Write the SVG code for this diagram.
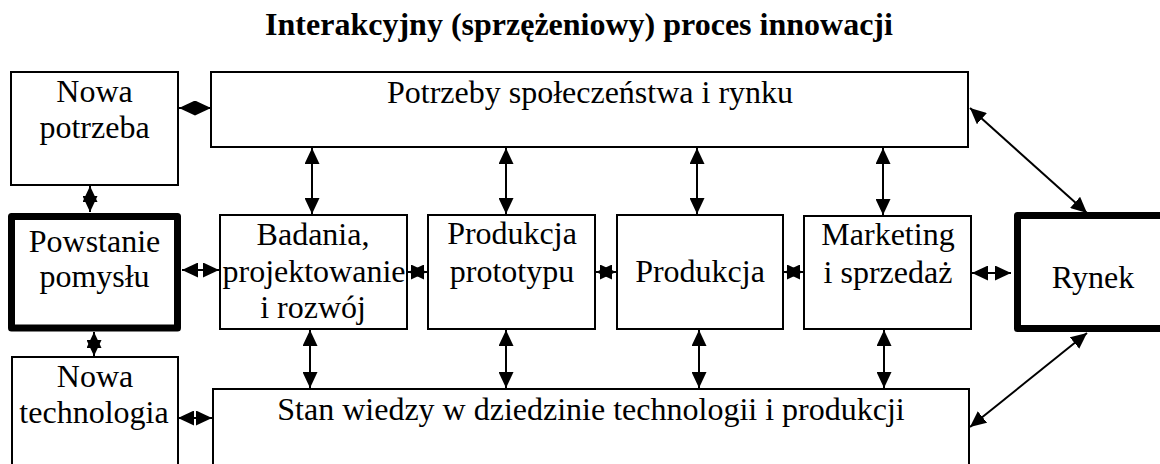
<svg xmlns="http://www.w3.org/2000/svg" width="1160" height="464" viewBox="0 0 1160 464">
<style>
.box{fill:#fff;stroke:#000;stroke-width:2}
.thick{fill:#fff;stroke:#000;stroke-width:7;stroke-linejoin:round}
.t{font-family:"Liberation Serif","Times New Roman",serif;font-size:32px;fill:#000;text-anchor:middle}
.title{font-family:"Liberation Serif","Times New Roman",serif;font-size:32px;font-weight:bold;fill:#000;text-anchor:middle}
.c{stroke:#000;stroke-width:2;fill:none;marker-start:url(#ah);marker-end:url(#ah)}
</style>
<defs>
<marker id="ah" viewBox="0 0 16 15" refX="16" refY="7.5" markerWidth="16" markerHeight="15" markerUnits="userSpaceOnUse" orient="auto-start-reverse">
<path d="M0,0 L16,7.5 L0,15 z" fill="#000"/>
</marker>
</defs>
<rect width="1160" height="464" fill="#fff"/>
<text class="title" x="579" y="35">Interakcyjny (sprzężeniowy) proces innowacji</text>

<g id="connectors">
<line class="c" x1="179" y1="108" x2="211" y2="108"/>
<line class="c" x1="90" y1="186" x2="90" y2="212"/>
<line class="c" x1="94" y1="332" x2="94" y2="356"/>
<line class="c" x1="182" y1="270" x2="219" y2="270"/>
<line class="c" x1="178" y1="418" x2="212" y2="418"/>
<line class="c" x1="408" y1="272" x2="427" y2="272"/>
<line class="c" x1="596" y1="272" x2="616" y2="272"/>
<line class="c" x1="784" y1="272" x2="803" y2="272"/>
<line class="c" x1="972" y1="273" x2="1011" y2="273"/>
<line class="c" x1="312" y1="148" x2="312" y2="214"/>
<line class="c" x1="506" y1="148" x2="506" y2="214"/>
<line class="c" x1="697" y1="148" x2="697" y2="214"/>
<line class="c" x1="883" y1="148" x2="883" y2="215"/>
<line class="c" x1="310" y1="330" x2="310" y2="388"/>
<line class="c" x1="506" y1="330" x2="506" y2="388"/>
<line class="c" x1="699" y1="330" x2="699" y2="388"/>
<line class="c" x1="884" y1="330" x2="884" y2="388"/>
<line class="c" x1="970" y1="108" x2="1087" y2="213"/>
<line class="c" x1="1087" y1="333" x2="970" y2="427"/>
</g>

<g id="nowa-potrzeba">
<rect class="box" x="11" y="72" width="167" height="113"/>
<text class="t" x="94.5" y="102">Nowa</text>
<text class="t" x="94.5" y="138">potrzeba</text>
</g>
<g id="potrzeby">
<rect class="box" x="211" y="72" width="757" height="75"/>
<text class="t" x="590" y="103">Potrzeby społeczeństwa i rynku</text>
</g>
<g id="powstanie">
<rect class="thick" x="11.5" y="216.5" width="166" height="111.5"/>
<text class="t" x="94.5" y="252">Powstanie</text>
<text class="t" x="94.5" y="287">pomysłu</text>
</g>
<g id="badania">
<rect class="box" x="220" y="215" width="187" height="114"/>
<text class="t" x="313" y="245">Badania,</text>
<text class="t" x="314" y="282">projektowanie</text>
<text class="t" x="313" y="318">i rozwój</text>
</g>
<g id="prototyp">
<rect class="box" x="428" y="215" width="167" height="114"/>
<text class="t" x="512" y="244">Produkcja</text>
<text class="t" x="512" y="282">prototypu</text>
</g>
<g id="produkcja">
<rect class="box" x="617" y="215" width="166" height="114"/>
<text class="t" x="700" y="282">Produkcja</text>
</g>
<g id="marketing">
<rect class="box" x="804" y="216" width="167" height="113"/>
<text class="t" x="888" y="245">Marketing</text>
<text class="t" x="888" y="283">i sprzedaż</text>
</g>
<g id="rynek">
<rect class="thick" x="1017.5" y="215.5" width="200" height="113"/>
<text class="t" x="1093" y="288">Rynek</text>
</g>
<g id="nowa-technologia">
<rect class="box" x="12" y="357" width="166" height="120"/>
<text class="t" x="95" y="387">Nowa</text>
<text class="t" x="94" y="423">technologia</text>
</g>
<g id="stan-wiedzy">
<rect class="box" x="213" y="389" width="756" height="100"/>
<text class="t" x="591" y="420">Stan wiedzy w dziedzinie technologii i produkcji</text>
</g>
</svg>
